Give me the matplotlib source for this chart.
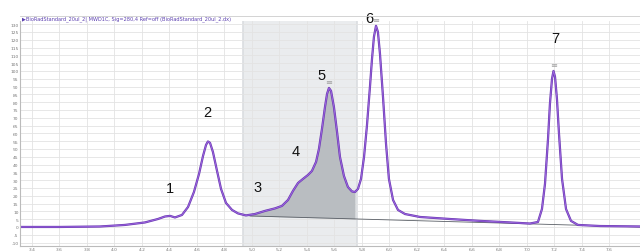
import numpy as np
import matplotlib
matplotlib.use("Agg")
import matplotlib.pyplot as plt

# ---- data ----
time_min = [3.313, 3.604, 3.895, 4.076, 4.222, 4.316, 4.367, 4.404, 4.440, 4.491,
            4.535, 4.578, 4.615, 4.644, 4.666, 4.680, 4.695, 4.716, 4.746, 4.775,
            4.811, 4.855, 4.898, 4.956, 5.022, 5.095, 5.167, 5.218, 5.262, 5.298,
            5.335, 5.371, 5.407, 5.436, 5.466, 5.487, 5.509, 5.531, 5.546, 5.560,
            5.575, 5.596, 5.618, 5.640, 5.669, 5.698, 5.727, 5.749, 5.771, 5.793,
            5.815, 5.836, 5.858, 5.873, 5.887, 5.902, 5.916, 5.931, 5.953, 5.975,
            5.996, 6.026, 6.062, 6.113, 6.222, 6.440, 6.658, 6.876, 7.022, 7.080,
            7.109, 7.131, 7.153, 7.167, 7.182, 7.193, 7.204, 7.218, 7.233, 7.255,
            7.284, 7.320, 7.371, 7.531, 7.822]
signal_mau = [0.0, 0.0, 0.3, 1.3, 2.9, 5.1, 6.7, 7.1, 6.1, 7.7,
              12.8, 22.4, 34.0, 45.5, 52.6, 54.8, 53.9, 48.1, 35.9, 24.4,
              15.4, 10.9, 8.7, 7.4, 8.3, 10.3, 11.9, 13.5, 17.3, 23.1,
              28.2, 30.8, 33.3, 35.9, 41.7, 50.0, 62.8, 76.9, 85.3, 89.1,
              87.2, 76.9, 61.5, 44.9, 32.7, 25.6, 22.8, 22.4, 24.4, 30.8,
              44.9, 64.7, 89.7, 107.7, 121.8, 128.9, 125.0, 110.9, 83.3, 53.2,
              30.8, 17.3, 10.9, 8.3, 6.4, 5.1, 3.9, 2.9, 2.2, 3.2,
              11.5, 27.6, 56.4, 78.9, 94.9, 100.0, 96.2, 82.1, 59.6, 30.8,
              11.5, 3.9, 1.3, 0.6, 0.3]

peak_labels = ["1", "2", "3", "4", "5", "6", "7"]
peak_label_t = [4.400, 4.676, 5.044, 5.320, 5.509, 5.851, 7.204]
peak_label_y = [25.0, 73.7, 25.6, 48.7, 97.4, 134.0, 121.0]
apex_marked_t = [5.560, 5.902, 7.193]
apex_marked_y = [89.1, 128.9, 100.0]

band_start, band_end = 4.935, 5.764          # highlighted integration window
fill_start, fill_end = 4.985, 5.749          # integrated area
baseline_t = [4.985, 7.822]
baseline_y = [7.05, 0.0]

xticks = [round(3.4 + 0.2 * i, 1) for i in range(22)]
yticks = list(range(-10, 135, 5))

title_text = ("\u25B6BioRadStandard_20ul_2| MWD1C, Sig=280,4 Ref=off "
              "(BioRadStandard_20ul_2.dx)")

# ---- figure ----
W, H = 640, 253
fig = plt.figure(figsize=(W / 100, H / 100), dpi=100)
ax = fig.add_axes([20 / W, (H - 247) / H, 1 - 20 / W, (247 - 22) / H])

t = np.array(time_min)
s = np.array(signal_mau)

ax.set_xlim(3.313, 7.822)
ax.set_ylim(-12.2, 132.0)

ax.axvspan(band_start, band_end, color="#eaecee", zorder=0, lw=0)
ax.axvline(band_start, color="#dadde0", lw=1.2, zorder=0.5)
ax.axvline(band_end, color="#dadde0", lw=1.2, zorder=0.5)

ax.set_xticks(xticks)
ax.set_yticks(yticks)
ax.grid(True, color="#e3e3e3", lw=0.6, zorder=0.2)
ax.set_axisbelow(True)
ax.tick_params(axis="both", length=0, labelsize=3.2, labelcolor="#777777", pad=1)
ax.set_xticklabels([f"{v:.1f}" for v in xticks])
ax.set_yticklabels([str(v) for v in yticks])
for sp in ["top", "right"]:
    ax.spines[sp].set_visible(False)
ax.spines["left"].set_color("#bbbbbb")
ax.spines["bottom"].set_color("#bbbbbb")
ax.spines["left"].set_linewidth(0.8)
ax.spines["bottom"].set_linewidth(0.8)

# integrated area
mask = (t > fill_start) & (t < fill_end)
ft = np.concatenate([[fill_start], t[mask], [fill_end]])
fs = np.concatenate([[np.interp(fill_start, t, s)], s[mask], [np.interp(fill_end, t, s)]])
fb = np.interp(ft, baseline_t, baseline_y)
ax.fill_between(ft, fb, fs, color="#b9bdc1", lw=0, zorder=1)
ax.plot(baseline_t, baseline_y, color="#5a5f66", lw=0.6, zorder=1.5)

# trace
ax.plot(t, s, color="#6a38b0", lw=1.6, zorder=2, solid_joinstyle="round")
ax.plot(t, s, color="#9c66e0", lw=0.7, zorder=2.1, solid_joinstyle="round")

# apex retention-time marks (overprinted small text)
for at, ay in zip(apex_marked_t, apex_marked_y):
    ax.annotate("\u2261", (at, ay), xytext=(0, 1.5), textcoords="offset points",
                ha="center", va="bottom", fontsize=6, color="#a0a0a0", zorder=3)

# peak labels
for lab, lt, ly in zip(peak_labels, peak_label_t, peak_label_y):
    ax.text(lt, ly, lab, ha="center", va="center", fontsize=10.5,
            family="Liberation Sans", color="#111111", zorder=4, clip_on=False)

# header
fig.add_artist(plt.Line2D([20 / W, 1], [(H - 17) / H, (H - 17) / H],
                          color="#cccccc", lw=0.6))
fig.text(22 / W, (H - 19.5) / H, title_text, fontsize=3.6, color="#5b3fb0",
         ha="left", va="center", family="DejaVu Sans")

fig.savefig("out.png", dpi=100)
